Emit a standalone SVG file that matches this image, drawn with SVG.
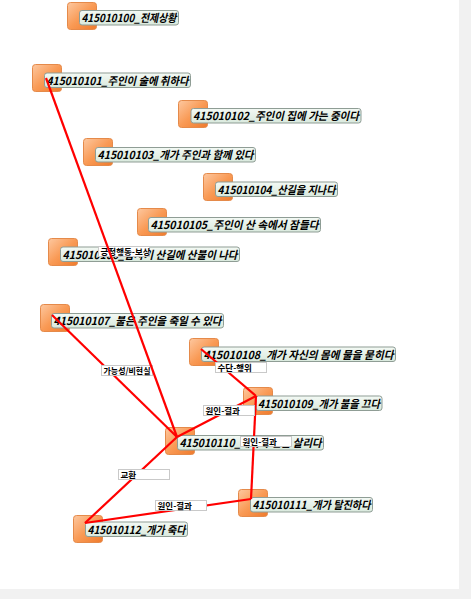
<svg xmlns="http://www.w3.org/2000/svg" width="471" height="599" viewBox="0 0 471 599">
<defs>
<linearGradient id="og" x1="0" y1="0" x2="1" y2="1">
<stop offset="0" stop-color="#fdc8a0"/>
<stop offset="0.5" stop-color="#f99a55"/>
<stop offset="1" stop-color="#ef7a2c"/>
</linearGradient>
<linearGradient id="lg" x1="0" y1="0" x2="0" y2="1">
<stop offset="0" stop-color="#f3f9f4"/>
<stop offset="1" stop-color="#d9e9dd"/>
</linearGradient>
<style>
.ic{fill:url(#og);stroke:#e58a4a;stroke-width:1}
.lb{fill:url(#lg);stroke:#8f9d95;stroke-width:1}
.nt{font-family:"Noto Sans CJK KR","Noto Sans",sans-serif;font-size:11px;font-weight:bold;font-style:italic;fill:#000}
.e{stroke:#ff0000;stroke-width:2.2;fill:none}
.eb{fill:#ffffff;stroke:#c9c9c9;stroke-width:1}
.et{font-family:"Noto Sans CJK KR","Noto Sans",sans-serif;font-size:8.5px;font-weight:bold;fill:#000}
</style>
</defs>
<rect x="0" y="0" width="471" height="599" fill="#ffffff"/>
<g id="nodes">
<g id="n100"><rect class="ic" x="67.5" y="2.5" width="29" height="27" rx="3"/><rect class="lb" x="79.5" y="10.5" width="99" height="14.5" rx="2.5"/><text class="nt" x="81.5" y="22" textLength="95" lengthAdjust="spacingAndGlyphs">415010100_전제상황</text></g>
<g id="n101"><rect class="ic" x="32.5" y="64.5" width="29" height="27" rx="3"/><rect class="lb" x="44.5" y="73" width="146" height="14.5" rx="2.5"/><text class="nt" x="46.5" y="84.5" textLength="142" lengthAdjust="spacingAndGlyphs">415010101_주인이 술에 취하다</text></g>
<g id="n102"><rect class="ic" x="178.5" y="100.5" width="29" height="27" rx="3"/><rect class="lb" x="191" y="108.5" width="170" height="14.5" rx="2.5"/><text class="nt" x="193" y="120" textLength="166" lengthAdjust="spacingAndGlyphs">415010102_주인이 집에 가는 중이다</text></g>
<g id="n103"><rect class="ic" x="83.5" y="138.5" width="29" height="27" rx="3"/><rect class="lb" x="95.5" y="147.5" width="160" height="14.5" rx="2.5"/><text class="nt" x="97.5" y="159" textLength="156" lengthAdjust="spacingAndGlyphs">415010103_개가 주인과 함께 있다</text></g>
<g id="n104"><rect class="ic" x="203.5" y="173.5" width="29" height="27" rx="3"/><rect class="lb" x="215.5" y="182" width="122" height="14.5" rx="2.5"/><text class="nt" x="217.5" y="193.5" textLength="118" lengthAdjust="spacingAndGlyphs">415010104_산길을 지나다</text></g>
<g id="n105"><rect class="ic" x="137.5" y="208.5" width="29" height="27" rx="3"/><rect class="lb" x="148.5" y="217.5" width="172" height="14.5" rx="2.5"/><text class="nt" x="150.5" y="229" textLength="168" lengthAdjust="spacingAndGlyphs">415010105_주인이 산 속에서 잠들다</text></g>
<g id="n106"><rect class="ic" x="48.5" y="238.5" width="29" height="27" rx="3"/><rect class="lb" x="60.5" y="247" width="179" height="14.5" rx="2.5"/><text class="nt" x="62.5" y="258.5" textLength="175" lengthAdjust="spacingAndGlyphs">415010106_갑자기 산길에 산불이 나다</text></g>
<g id="n107"><rect class="ic" x="40.5" y="304.5" width="29" height="27" rx="3"/><rect class="lb" x="51.5" y="313.5" width="172" height="14.5" rx="2.5"/><text class="nt" x="53.5" y="325" textLength="168" lengthAdjust="spacingAndGlyphs">415010107_불은 주인을 죽일 수 있다</text></g>
<g id="n108"><rect class="ic" x="189.5" y="338.5" width="29" height="27" rx="3"/><rect class="lb" x="201.5" y="347" width="194" height="14.5" rx="2.5"/><text class="nt" x="203.5" y="358.5" textLength="190" lengthAdjust="spacingAndGlyphs">415010108_개가 자신의 몸에 물을 묻히다</text></g>
<g id="n109"><rect class="ic" x="243.5" y="387.5" width="29" height="27" rx="3"/><rect class="lb" x="256" y="396" width="126" height="14.5" rx="2.5"/><text class="nt" x="258" y="407.5" textLength="122" lengthAdjust="spacingAndGlyphs">415010109_개가 불을 끄다</text></g>
<g id="n110"><rect class="ic" x="165.5" y="427.5" width="29" height="27" rx="3"/><rect class="lb" x="177.5" y="435.5" width="146" height="14.5" rx="2.5"/><text class="nt" x="179.5" y="447" textLength="142" lengthAdjust="spacingAndGlyphs">415010110_개가 주인을 살리다</text></g>
<g id="n111"><rect class="ic" x="238.5" y="489.5" width="29" height="27" rx="3"/><rect class="lb" x="250.5" y="497.5" width="122" height="14.5" rx="2.5"/><text class="nt" x="252.5" y="509" textLength="118" lengthAdjust="spacingAndGlyphs">415010111_개가 탈진하다</text></g>
<g id="n112"><rect class="ic" x="73.5" y="515.5" width="29" height="27" rx="3"/><rect class="lb" x="85.5" y="522" width="102" height="14.5" rx="2.5"/><text class="nt" x="87.5" y="533.5" textLength="98" lengthAdjust="spacingAndGlyphs">415010112_개가 죽다</text></g>
</g>
<g id="connectors">
<line class="e" x1="52" y1="315" x2="177" y2="437"/>
<line class="e" x1="201" y1="349" x2="256" y2="396"/>
<line class="e" x1="256" y1="396" x2="177" y2="437"/>
<line class="e" x1="256" y1="396" x2="251" y2="499"/>
<line class="e" x1="177" y1="437" x2="85" y2="523"/>
<line class="e" x1="251" y1="499" x2="85" y2="523"/>
<rect class="eb" x="101.5" y="365.5" width="51" height="10"/><text class="et" x="103.5" y="373.8" textLength="47" lengthAdjust="spacingAndGlyphs">가능성/비현실</text>
<rect class="eb" x="215.5" y="362.5" width="51" height="10"/><text class="et" x="217.5" y="370.8">수단-행위</text>
<rect class="eb" x="203.5" y="405.5" width="51" height="10"/><text class="et" x="205.5" y="413.8">원인-결과</text>
<rect class="eb" x="240.5" y="436.5" width="51" height="10"/><text class="et" x="242.5" y="444.8">원인-결과</text>
<rect class="eb" x="118.5" y="469.5" width="51" height="10"/><text class="et" x="120.5" y="477.8">교환</text>
<rect class="eb" x="155.5" y="500.5" width="51" height="10"/><text class="et" x="157.5" y="508.8">원인-결과</text>
<rect class="eb" x="98.5" y="246.5" width="51" height="10"/><text class="et" x="100.5" y="254.8">긍정행동-보상</text>
<line class="e" x1="46" y1="78" x2="177" y2="437"/>
</g>
<rect x="459" y="0" width="12" height="599" fill="#f1f1f1"/>
<rect x="0" y="589" width="459" height="10" fill="#f1f1f1"/>
</svg>
